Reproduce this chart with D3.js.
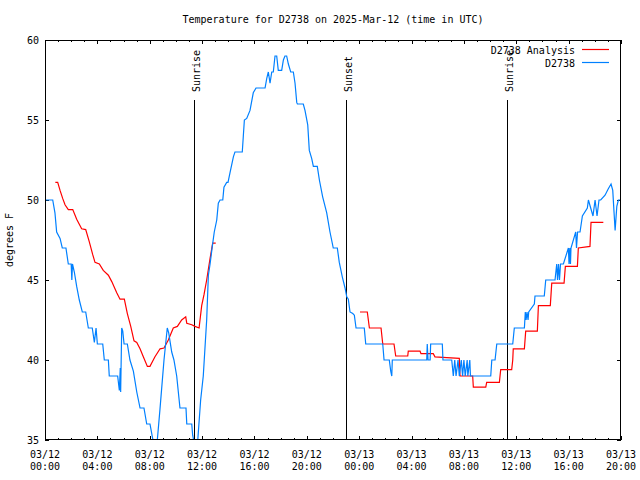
<!DOCTYPE html>
<html>
<head>
<meta charset="utf-8">
<script src="https://cdn.jsdelivr.net/npm/d3@7"></script>
<style>
  body { margin: 0; background: #fff; }
  svg { display: block; }
  text { font-family: "DejaVu Sans Mono", monospace; font-size: 10px; fill: #000; }
</style>
</head>
<body>
<svg id="chart" width="640" height="480"></svg>
<script>
// ---- data (hours since 2025-03-12 00:00 UTC, degrees F) ----
const chartTitle = "Temperature for D2738 on 2025-Mar-12 (time in UTC)";
const seriesNames = ["D2738 Analysis", "D2738"];
const xTickHours = [0, 4, 8, 12, 16, 20, 24, 28, 32, 36, 40, 44];
const xTickDates = ["03/12","03/12","03/12","03/12","03/12","03/12","03/13","03/13","03/13","03/13","03/13","03/13"];
const xTickTimes = ["00:00","04:00","08:00","12:00","16:00","20:00","00:00","04:00","08:00","12:00","16:00","20:00"];
const yTicks = [35, 40, 45, 50, 55, 60];
const sunEvents = [["Sunrise", 11.38], ["Sunset", 23.0], ["Sunrise", 35.32]];

const observed = [
  [0,50],[0.59,50],[0.76,49.2],[0.89,48.0],[1.15,47.6],[1.32,47.0],[1.60,47.0],[1.78,46.0],
  [2.0,46],[2.05,45.0],[2.1,46.0],[2.24,45.5],[2.42,44.6],[2.62,43.75],[2.85,43.0],[3.11,43.0],
  [3.31,42.0],[3.61,42.0],[3.77,41.1],[3.90,42.0],[4.00,41.0],[4.41,41.0],[4.53,40.0],[4.84,40.0],
  [4.91,39.0],[5.55,39.0],[5.68,38.1],[5.75,39.5],[5.78,38.0],[5.86,42.0],[5.94,41.8],[6.04,41.0],
  [6.29,41.0],[6.49,40.0],[6.75,39.3],[7.01,38.0],[7.26,37.0],[7.56,37.0],[7.77,36.0],[8.02,36.0],
  [8.20,35.2],[8.42,34.3],[8.58,35.0],[8.78,36.9],[9.09,40],[9.34,42.0],[9.45,41.7],[9.68,40.5],
  [9.85,40],[10.06,39],[10.31,37],[10.77,37],[10.83,36],[11.21,36],[11.28,35.3],[11.5,34.4],
  [11.67,35],[11.89,37.5],[12.09,39],[12.35,42.5],[12.48,45.3],[12.61,46.0],[12.78,47.1],[12.93,48],
  [13.12,48.75],[13.24,49.8],[13.37,50],[13.58,50],[13.67,50.8],[13.88,51.1],[13.98,51.1],[14.13,51.7],
  [14.39,52.7],[14.51,53],[15.07,53],[15.15,54],[15.23,55],[15.41,55.1],[15.66,55.6],[15.91,56.7],
  [16.12,57],[16.81,57],[16.94,57.6],[17.06,58.0],[17.19,57.3],[17.32,58.0],[17.44,58.0],[17.57,59.0],
  [17.70,59.0],[17.82,58.1],[18.08,58.1],[18.21,58.75],[18.33,59],[18.46,59],[18.59,58.5],[18.77,58],
  [18.97,58],[19.10,57.3],[19.23,56.1],[19.28,56],[19.73,56],[19.86,55.6],[20.07,54.7],[20.19,53.1],
  [20.37,52.6],[20.50,52.1],[20.80,52.1],[20.96,51.25],[21.21,50.2],[21.52,49.2],[21.77,48],[22.02,47],
  [22.33,47],[22.48,46.1],[22.71,45.2],[22.92,44.5],[23.05,43.95],[23.17,43.8],[23.30,43.0],[23.51,42.9],
  [23.63,42.8],[23.76,42.0],[24.39,42.0],[24.50,41.0],[25.80,41.0],[25.90,40],[26.30,40],[26.41,39.3],
  [26.49,39.0],[26.53,40],[29.16,40],[29.2,41],[29.26,40],[29.42,40],[29.46,41],[30.35,41],
  [30.40,40],[31.07,40],[31.19,39],[31.3,40],[31.4,39],[31.55,40],[31.65,39],[31.8,40],
  [31.9,39],[32.0,40],[32.1,39],[32.25,40],[32.3,39],[32.45,40],[32.5,39],[32.72,39],
  [34.05,39],[34.13,40],[34.38,40],[34.51,41],[35.73,41],[35.85,42],[36.62,42],[36.69,43],
  [36.75,42.5],[36.82,43],[36.9,42.5],[36.95,43],[37.38,43.5],[37.43,44],[38.14,44],[38.25,45],
  [38.96,45],[39.09,46],[39.15,45],[39.23,46],[39.30,45],[39.38,46],[39.60,46],[39.98,47],
  [40.03,46],[40.09,47],[40.14,46],[40.18,47],[40.54,48],[40.6,47],[40.68,48],[40.87,48],
  [41.05,49],[41.43,49.5],[41.51,50],[41.86,49],[42.02,50],[42.17,49],[42.32,50],[42.45,50],
  [42.78,50.3],[43.03,50.7],[43.24,51],[43.37,50.6],[43.47,49.2],[43.55,48.1],[43.68,49.6],[43.80,50],
  [44.0,50]
];

const analysis = [
  [0.79,51.1],[0.97,51.1],[1.15,50.6],[1.35,50.1],[1.53,49.7],[1.78,49.4],[2.12,49.4],[2.42,48.8],
  [2.80,48.2],[3.11,48.15],[3.38,47.4],[3.64,46.6],[3.82,46.1],[4.15,46.0],[4.45,45.6],[4.84,45.3],
  [5.10,44.9],[5.48,44.2],[5.73,43.8],[6.06,43.8],[6.29,42.9],[6.55,42.1],[6.80,41.2],[7.01,41.1],
  [7.26,40.7],[7.51,40.2],[7.82,39.6],[8.02,39.6],[8.40,40.2],[8.79,40.7],[9.09,40.75],[9.42,41.25],
  [9.80,42],[10.11,42.1],[10.44,42.5],[10.75,42.7],[10.83,42.3],[11.21,42.2],[11.46,42.1],[11.77,42.0],
  [11.97,43.4],[12.15,44.1],[12.35,45],[12.61,46.35],[12.81,47.3],[13.04,47.3],
  null,
  [24.06,43],[24.62,43],[24.78,42],[25.67,42],[25.80,41],[26.66,41],[26.79,40.25],[27.71,40.25],
  [27.75,40.55],[28.65,40.55],[28.72,40.4],[29.66,40.4],[29.79,40.2],[30.69,40.15],[31.65,40.1],[31.70,39.0],
  [32.67,39.0],[32.72,38.3],[33.67,38.3],[33.74,38.6],[34.71,38.6],[34.81,39.4],[35.65,39.4],[35.73,40],
  [35.77,40.7],[36.62,40.7],[36.72,41.8],[37.61,41.8],[37.69,43.4],[38.60,43.4],[38.71,44.8],[39.65,44.8],
  [39.75,45.85],[40.67,45.85],[40.74,47.0],[41.63,47.1],[41.71,48.6],[42.65,48.6]
];

// ---- drawing ----
const svg = d3.select("#chart");
const L = 45, R = 621, T = 40, B = 440;
const x = d3.scaleLinear().domain([0, 44]).range([L, R]);
const y = d3.scaleLinear().domain([35, 60]).range([B, T]);
const colors = ["#ff0000", "#0080ff"];

svg.append("text").attr("x", 333).attr("y", 23).attr("text-anchor", "middle").text(chartTitle);

svg.append("defs").append("clipPath").attr("id", "plotclip")
  .append("rect").attr("x", L).attr("y", T).attr("width", R - L).attr("height", B - T);

function styleAxis(g) {
  g.select(".domain").remove();
  g.selectAll("line").attr("stroke", "#000").attr("shape-rendering", "crispEdges");
}

// minor ticks (hourly) bottom and top
svg.append("g").attr("transform", `translate(0,${B})`)
  .call(d3.axisBottom(x).tickValues(d3.range(0, 45, 1)).tickSize(-2).tickFormat(""))
  .call(styleAxis);
svg.append("g").attr("transform", `translate(0,${T})`)
  .call(d3.axisTop(x).tickValues(d3.range(0, 45, 1)).tickSize(-2).tickFormat(""))
  .call(styleAxis);
// major ticks
const xb = svg.append("g").attr("transform", `translate(0,${B})`)
  .call(d3.axisBottom(x).tickValues(xTickHours).tickSize(-4).tickFormat(""))
  .call(styleAxis);
svg.append("g").attr("transform", `translate(0,${T})`)
  .call(d3.axisTop(x).tickValues(xTickHours).tickSize(-4).tickFormat(""))
  .call(styleAxis);
const xl = svg.append("g");
xTickHours.forEach((h, i) => {
  const t = xl.append("text").attr("text-anchor", "middle");
  t.append("tspan").attr("x", x(h)).attr("y", 458).text(xTickDates[i]);
  t.append("tspan").attr("x", x(h)).attr("y", 470).text(xTickTimes[i]);
});

svg.append("g").attr("transform", `translate(${L},0)`)
  .call(d3.axisLeft(y).tickValues(yTicks).tickSize(-4).tickFormat(""))
  .call(styleAxis);
svg.append("g").attr("transform", `translate(${R},0)`)
  .call(d3.axisRight(y).tickValues(yTicks).tickSize(-4).tickFormat(""))
  .call(styleAxis);
svg.append("g").selectAll("text").data(yTicks).join("text")
  .attr("x", 39).attr("y", d => y(d) + 3.5).attr("text-anchor", "end").text(d => d);

svg.append("text").attr("transform", `translate(13,${(T + B) / 2}) rotate(-90)`)
  .attr("text-anchor", "middle").text("degrees F");

// sun events
const sg = svg.append("g");
sunEvents.forEach(([name, h]) => {
  const xp = Math.round(x(h)) + 0.5;
  sg.append("line").attr("x1", xp).attr("x2", xp).attr("y1", 100).attr("y2", B)
    .attr("stroke", "#000").attr("stroke-width", 1);
  sg.append("text").attr("transform", `translate(${xp + 5},92) rotate(-90)`)
    .attr("text-anchor", "start").text(name);
});

// series
const line = d3.line().defined(d => d !== null).x(d => x(d[0])).y(d => y(d[1]));
const pg = svg.append("g").attr("clip-path", "url(#plotclip)");
pg.append("path").datum(analysis).attr("d", line)
  .attr("fill", "none").attr("stroke", colors[0]).attr("stroke-width", 1.2);
pg.append("path").datum(observed).attr("d", line)
  .attr("fill", "none").attr("stroke", colors[1]).attr("stroke-width", 1.2);

// border
svg.append("rect").attr("x", L + 0.5).attr("y", T + 0.5).attr("width", R - L - 1).attr("height", B - T - 1)
  .attr("fill", "none").attr("stroke", "#000").attr("stroke-width", 1);

// legend
const lg = svg.append("g");
seriesNames.forEach((n, i) => {
  const yy = 50 + i * 13;
  lg.append("text").attr("x", 575).attr("y", yy + 3.5).attr("text-anchor", "end").text(n);
  lg.append("line").attr("x1", 582).attr("x2", 609).attr("y1", yy - 0.5).attr("y2", yy - 0.5)
    .attr("stroke", colors[i]).attr("stroke-width", 1.2);
});
</script>
</body>
</html>
